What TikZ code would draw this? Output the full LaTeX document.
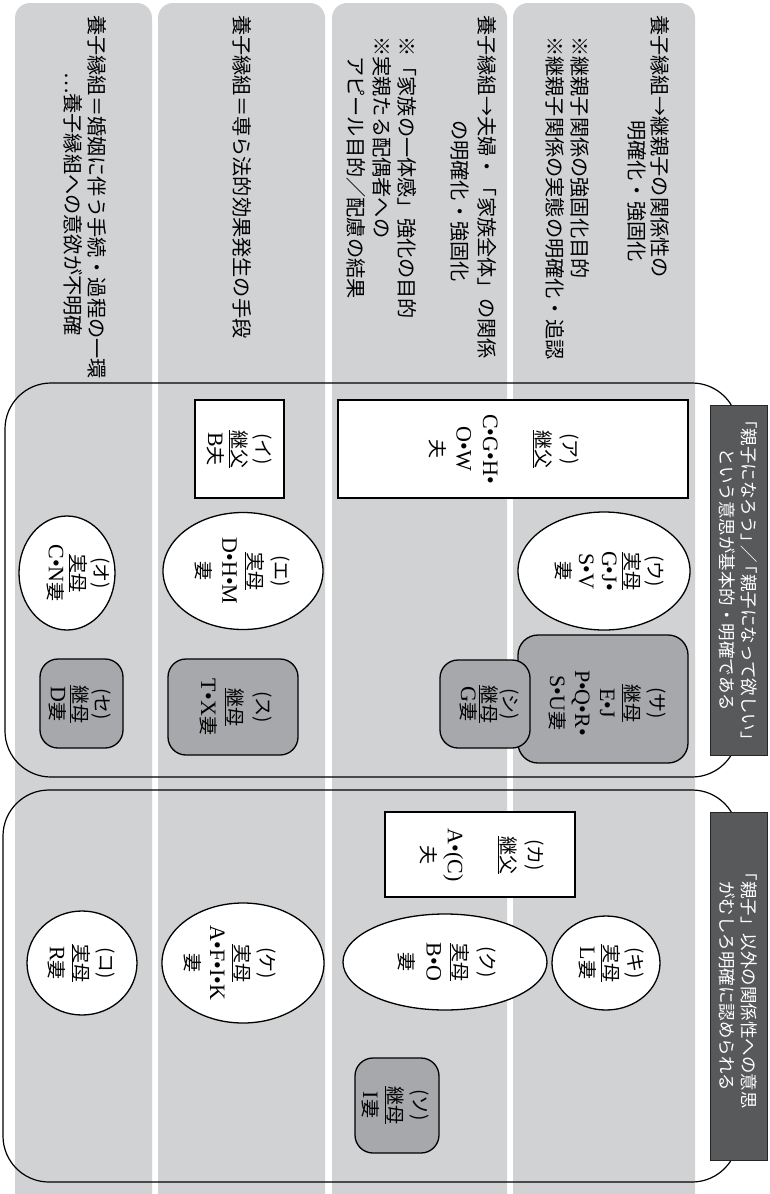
\documentclass[tikz,border=0pt]{standalone}
\usepackage{fontspec}
\setmainfont{Noto Sans CJK JP}
\newfontfamily\LAfont{Liberation Serif}
\usetikzlibrary{shapes.geometric}
\definecolor{stripgray}{HTML}{D1D2D4}
\definecolor{boxgray}{HTML}{A7A8AB}
\definecolor{darklab}{HTML}{58595B}
\newcommand\LA[1]{{\LAfont\fontsize{22}{24}\selectfont #1}}
\begin{document}
\begin{tikzpicture}[x=1pt,y=-1pt,
  stripbg/.style={fill=stripgray, rounded corners=15pt},
  grp/.style={draw=black, line width=1.2pt, rounded corners=46pt},
  lab/.style={draw=black!85, fill=darklab, line width=0.8pt, minimum width=57pt, inner sep=0},
  labtxt/.style={rotate=-90, align=center, text=white, font=\fontsize{17.5}{22}\selectfont, inner sep=0},
  wbox/.style={draw, fill=white, line width=1.3pt, inner sep=0},
  ell/.style={ellipse, draw, fill=white, line width=1.3pt, inner sep=0},
  gbox/.style={draw, fill=boxgray, line width=1.3pt, rounded corners=18pt, inner sep=0},
  ntxt/.style={rotate=-90, align=center, inner sep=0, font=\fontsize{19}{#1}\selectfont},
  ntxt/.default=24,
  stxt/.style={rotate=-90, anchor=west, inner sep=0, font=\fontsize{20.2}{24}\selectfont}]
\useasboundingbox (0,0) rectangle (769,1194);
\clip (0,0) rectangle (769,1194);
\fill[white] (0,0) rectangle (769,1194);
% gray strips
\fill[stripbg] (15,3) rectangle (152,1210);
\fill[stripbg] (158,3) rectangle (325,1210);
\fill[stripbg] (332,3) rectangle (507,1210);
\fill[stripbg] (513,3) rectangle (695,1210);
% strip texts
\node[stxt] (s1a) at (660,15) {養子縁組→継親子の関係性の};
\node[stxt] (s1b) at (637,120) {明確化・強固化};
\node[stxt] (s1c) at (580,36) {※継親子関係の強固化目的};
\node[stxt] (s1d) at (555,36) {※継親子関係の実態の明確化・追認};
\node[stxt] (s2a) at (487,15) {養子縁組→夫婦・「家族全体」の関係};
\node[stxt] (s2b) at (460,120) {の明確化・強固化};
\node[stxt] (s2c) at (407,36) {※「家族の一体感」強化の目的};
\node[stxt] (s2d) at (382,36) {※実親たる配偶者への};
\node[stxt] (s2e) at (356,56) {アピール目的／配慮の結果};
\node[stxt] (s3a) at (242,15) {養子縁組＝専ら法的効果発生の手段};
\node[stxt] (s4a) at (97,15) {養子縁組＝婚姻に伴う手続・過程の一環};
\node[stxt] (s4b) at (73,72) {…養子縁組への意欲が不明確};
% group outlines
\draw[grp] (5,383) rectangle (738,777);
\draw[grp] (3,790) rectangle (738,1182);
% dark labels
\node[lab, minimum height=350pt] (lab1) at (738.5,580) {};
\node[labtxt] (lab1t) at (lab1) {「親子になろう」\hspace{-6pt}／\hspace{-6pt}「親子になって欲しい」\\という意思が基本的・明確である};
\node[lab, minimum height=348pt] (lab2) at (738.5,986) {};
\node[labtxt] (lab2t) at (lab2) {「親子」以外の関係性への意思\\がむしろ明確に認められる};
% group A nodes
\node[wbox, minimum width=350pt, minimum height=98pt] (a) at (513,449) {};
\node[ntxt=26.6] (at) at (503.5,449) {(ア)\\\underline{継父}\\[26.6pt]\LA{C•G•H•}\\\LA{O•W}\\夫};
\node[wbox, minimum width=89pt, minimum height=98pt] (b) at (239.5,449) {};
\node[ntxt=24] (bt) at (239,449) {(イ)\\\underline{継父}\\\LA{B}夫};
\node[ell, minimum width=172pt, minimum height=118pt] (c) at (604,571) {};
\node[ntxt=23] (ct) at (609,571) {(ウ)\\\underline{実母}\\\LA{G•J•}\\\LA{S•V}\\妻};
\node[ell, minimum width=160pt, minimum height=117pt] (e) at (243,571) {};
\node[ntxt=26.3] (et) at (242.5,571) {(エ)\\\underline{実母}\\\LA{D•H•M}\\妻};
\node[ell, minimum width=96pt, minimum height=114pt] (o) at (67,573) {};
\node[ntxt=23] (ot) at (79,573) {(オ)\\\underline{実母}\\\LA{C•N}妻};
\node[gbox, rounded corners=20pt, minimum width=170pt, minimum height=128pt] (sa) at (603,699) {};
\node[ntxt=25] (sat) at (607,703) {(サ)\\\underline{継母}\\\LA{E•J}\\\LA{P•Q•R•}\\\LA{S•U}妻};
\node[gbox, minimum width=90pt, minimum height=88pt] (shi) at (485,704) {};
\node[ntxt=21] (shit) at (489,704) {(シ)\\\underline{継母}\\\LA{G}妻};
\node[gbox, minimum width=130pt, minimum height=96pt] (su) at (233,707) {};
\node[ntxt=27.5] (sut) at (235.5,707) {(ス)\\\underline{継母}\\\LA{T•X}妻};
\node[gbox, minimum width=83pt, minimum height=89pt] (se) at (81.5,703.5) {};
\node[ntxt=22.5] (set) at (80.5,704) {(セ)\\\underline{継母}\\\LA{D}妻};
% group B nodes
\node[wbox, minimum width=190pt, minimum height=85pt] (ka) at (480,854.5) {};
\node[ntxt=26.75] (kat) at (481.5,855) {(カ)\\\underline{継父}\\[26.75pt]\LA{A•(C)}\\夫};
\node[ell, minimum width=108pt, minimum height=94pt] (ki) at (606,963) {};
\node[ntxt=24] (kit) at (611,963) {(キ)\\\underline{実母}\\\LA{L}妻};
\node[ell, minimum width=204pt, minimum height=96pt] (ku) at (445,962) {};
\node[ntxt=26.7] (kut) at (447,962) {(ク)\\\underline{実母}\\\LA{B•O}\\妻};
\node[gbox, minimum width=84pt, minimum height=95pt] (so) at (397,1105.5) {};
\node[ntxt=25] (sot) at (395,1105) {(ソ)\\\underline{継母}\\\LA{I}妻};
\node[ell, minimum width=162pt, minimum height=120pt] (ke) at (243,963) {};
\node[ntxt=25] (ket) at (229.5,963) {(ケ)\\\underline{実母}\\\LA{A•F•I•K}\\妻};
\node[ell, minimum width=110pt, minimum height=104pt] (ko) at (82,963) {};
\node[ntxt=25] (kot) at (82,963) {(コ)\\\underline{実母}\\\LA{R}妻};
\end{tikzpicture}
\end{document}
